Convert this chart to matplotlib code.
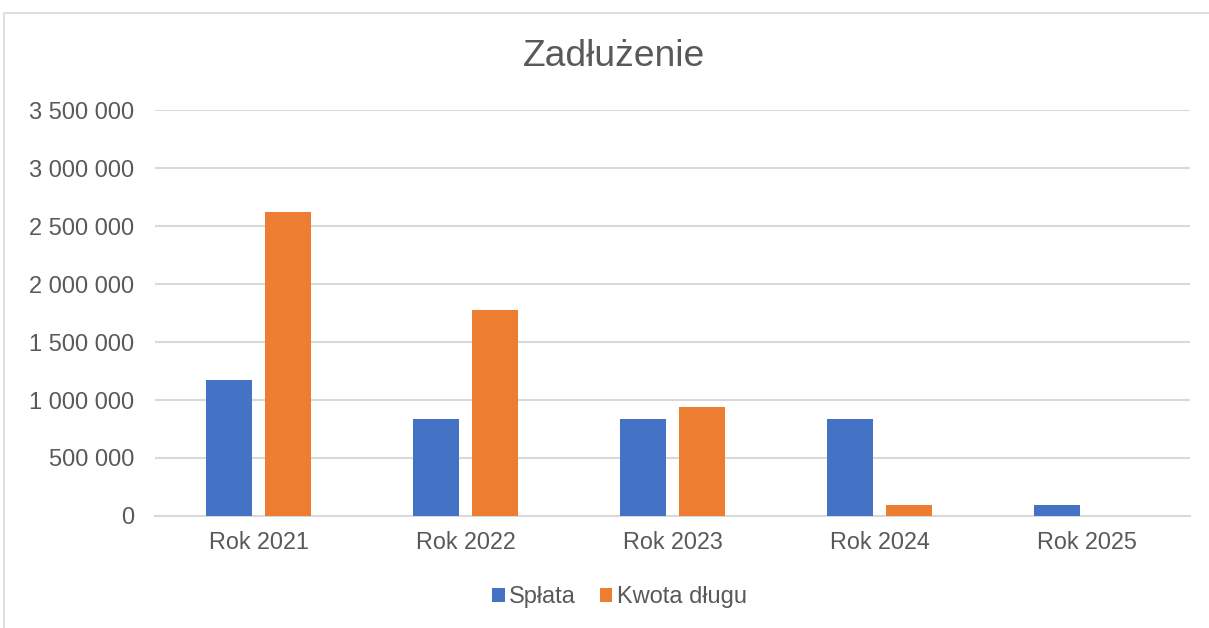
import matplotlib
matplotlib.use("Agg")
from matplotlib import pyplot as plt
from matplotlib.patches import Rectangle

categories = ["Rok 2021", "Rok 2022", "Rok 2023", "Rok 2024", "Rok 2025"]
splata = [1170000, 840000, 840000, 840000, 95000]
kwota_dlugu = [2620000, 1775000, 940000, 95000, 0]
yticks = [0, 500000, 1000000, 1500000, 2000000, 2500000, 3000000, 3500000]

plt.rcParams["font.family"] = ["Liberation Sans", "DejaVu Sans"]
gray = "#595959"

fig = plt.figure(figsize=(12.09, 6.28), dpi=100)
fig.patches.append(Rectangle((4 / 1209, -0.1), 1.2, 1 - 13 / 628 + 0.1,
                             transform=fig.transFigure, fill=False,
                             edgecolor="#d9d9d9", linewidth=1.2))
ax = fig.add_axes([155 / 1209, 1 - 516 / 628, 1035 / 1209, 406 / 628])

x = list(range(len(categories)))
w = 0.222
ax.bar([i - 0.1425 for i in x], splata, width=w, color="#4472C4", label="Spłata", zorder=3)
ax.bar([i + 0.1425 for i in x], kwota_dlugu, width=w, color="#ED7D31", label="Kwota długu", zorder=3)

ax.set_xlim(-0.5, len(categories) - 0.5)
ax.set_ylim(0, 3500000)
ax.set_yticks(yticks)
ax.set_yticklabels([f"{v:,}".replace(",", " ") for v in yticks], fontsize=17, color=gray)
ax.set_xticks(x)
ax.set_xticklabels(categories, fontsize=16.8, color=gray)
ax.tick_params(axis="y", length=0, pad=15)
ax.tick_params(axis="x", length=0, pad=11)
ax.grid(axis="y", color="#d9d9d9", linewidth=1.5, zorder=0)
for s in ["top", "right", "left"]:
    ax.spines[s].set_visible(False)
ax.spines["bottom"].set_color("#d9d9d9")
ax.spines["bottom"].set_linewidth(1.5)

fig.text(0.5 + 9 / 1209, 1 - 56 / 628, "Zadłużenie", ha="center", va="center", fontsize=26.8, color=gray)
fig.legend(loc="center", bbox_to_anchor=(0.5 + 15 / 1209, 1 - 597 / 628), ncol=2, frameon=False,
           fontsize=17, labelcolor=gray, handlelength=0.52, handleheight=0.52,
           handletextpad=0.2, columnspacing=1.0)

fig.savefig("out.png", dpi=100)
